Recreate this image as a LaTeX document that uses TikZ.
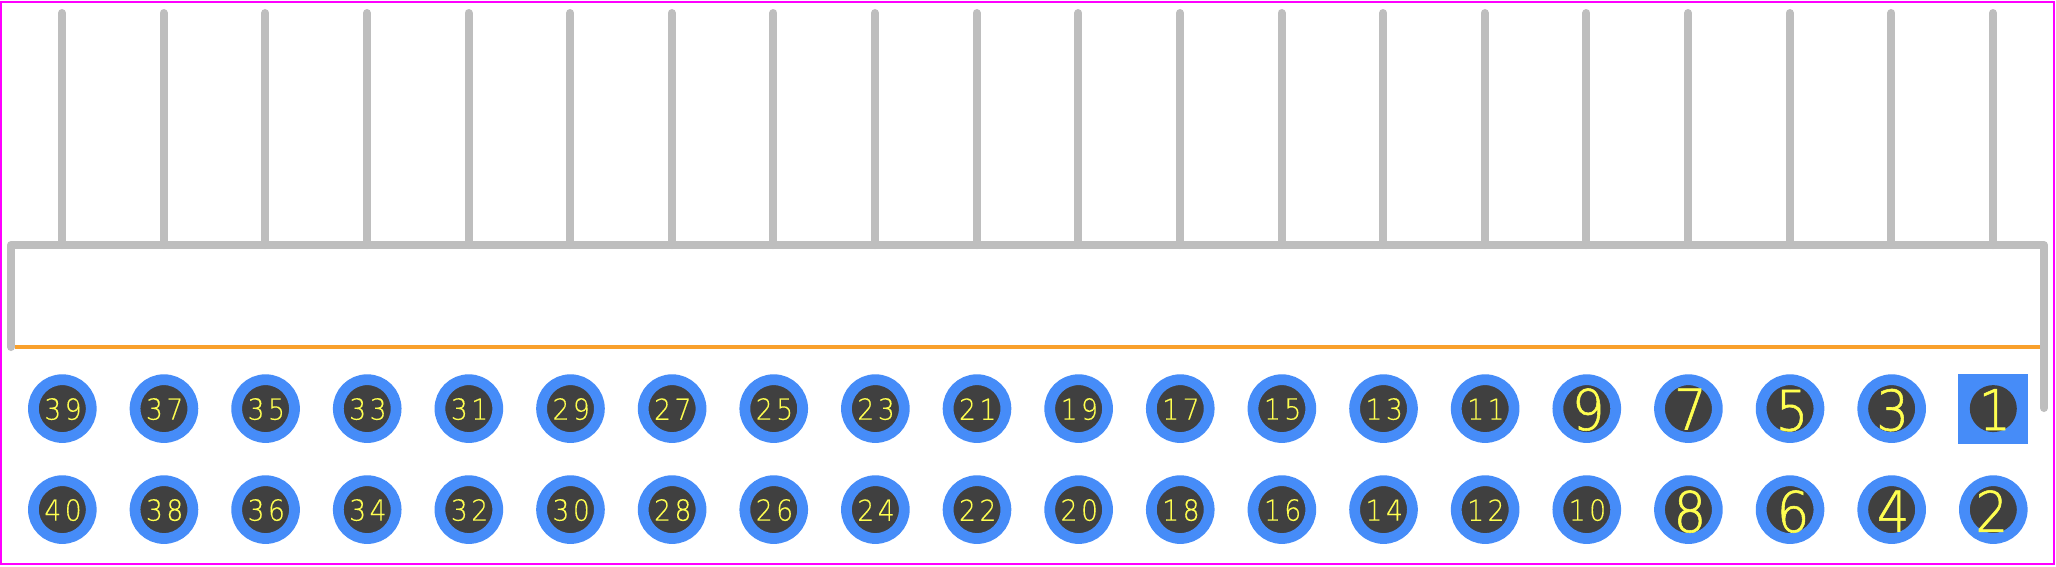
\documentclass[tikz,border=0pt]{standalone}
\usepackage{fontspec}
\newfontfamily\padbig[FakeStretch=0.92,FakeBold=1]{DejaVu Sans ExtraLight}
\newfontfamily\padsmall[FakeStretch=0.92,LetterSpace=12,FakeBold=0.2]{DejaVu Sans ExtraLight}
\definecolor{padblue}{HTML}{468CF8}
\definecolor{holedark}{HTML}{404040}
\definecolor{silk}{HTML}{BEBEBE}
\definecolor{edgeorange}{HTML}{F9A02C}
\definecolor{labelyellow}{HTML}{FFFF50}
\definecolor{frame}{HTML}{FF00FF}
\tikzset{
  silkline/.style={draw=silk,line width=8pt,line cap=round,line join=round},
  roundpad/.style={circle,draw=padblue,line width=10.8pt,fill=holedark,minimum size=57.8pt,inner sep=0pt},
  squarepad/.style={rectangle,fill=padblue,minimum size=70pt,inner sep=0pt},
  holeonly/.style={circle,fill=holedark,minimum size=47pt,inner sep=0pt},
  smalltext/.style={text=labelyellow,inner sep=0pt,font=\padsmall\fontsize{29}{29}\selectfont},
  bigtext/.style={text=labelyellow,inner sep=0pt,font=\padbig\fontsize{56}{56}\selectfont},
}
\begin{document}
\begin{tikzpicture}[x=1pt,y=-1pt]
\useasboundingbox (0,0) rectangle (2056,566);
\fill[white] (0,0) rectangle (2056,566);
\draw[frame,line width=2pt] (1,2) rectangle (2054,564);
% pins
\foreach \i in {0,...,19}{
  \pgfmathsetmacro{\xx}{62+101.63*\i}
  \draw[silkline] (\xx,13) -- (\xx,245);
}
\coordinate (bl) at (11,347);
\coordinate (tl) at (11,245);
\coordinate (tr) at (2044,245);
\coordinate (br) at (2044,408);
\draw[silkline] (bl) -- (tl) -- (tr) -- (br);
\draw[edgeorange,line width=4pt] (15,347) -- (2040,347);
% pads
\foreach \n in {3,5,...,39}{
  \pgfmathsetmacro{\xx}{1993.3-101.63*(\n-1)/2}
  \node[roundpad] (p\n) at (\xx,408.6) {};
}
\foreach \n in {2,4,...,40}{
  \pgfmathsetmacro{\xx}{1993.3-101.63*(\n-2)/2}
  \node[roundpad] (p\n) at (\xx,509.6) {};
}
\node[squarepad] (p1sq) at (1993.3,408.6) {};
\node[holeonly] (p1) at (1993.3,408.6) {};
% labels: single digits with their own offsets
\foreach \n/\dx/\dy in {1/1.5/1,2/-1.5/1.5,3/1/1.5,4/1.5/1.5,5/2/2,6/3/2,7/2/0.5,8/1.5/2,9/1.5/1}{
  \node[bigtext] (t\n) at ([shift={(\dx,\dy)}]p\n.center) {\n};
}
\foreach \n in {10,...,40}{
  \node[smalltext] (t\n) at ([shift={(0.7,0.5)}]p\n.center) {\n};
}
\end{tikzpicture}
\end{document}
